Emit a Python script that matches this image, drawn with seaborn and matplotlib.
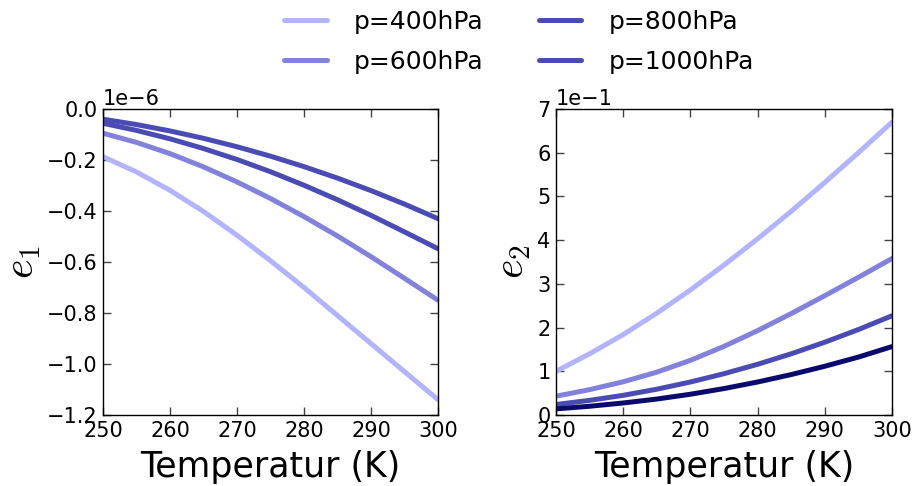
import numpy as np
import pandas as pd
import matplotlib
matplotlib.use("Agg")
import matplotlib.pyplot as plt
import seaborn as sns

# ---------------- data ----------------
temperature = [250, 255, 260, 265, 270, 275, 280, 285, 290, 295, 300]
pressures = ["p=400hPa", "p=600hPa", "p=800hPa", "p=1000hPa"]

# e1 in units of 1e-6
e1_400 = [-0.187, -0.247, -0.319, -0.402, -0.495, -0.595, -0.70, -0.81, -0.92, -1.03, -1.14]
e1_600 = [-0.095, -0.131, -0.175, -0.227, -0.286, -0.351, -0.422, -0.498, -0.579, -0.664, -0.75]
e1_800 = [-0.056, -0.084, -0.117, -0.155, -0.198, -0.246, -0.299, -0.356, -0.417, -0.482, -0.548]
e1_1000 = [-0.04, -0.061, -0.086, -0.115, -0.148, -0.185, -0.226, -0.271, -0.32, -0.373, -0.43]

# e2 in units of 1e-1
e2_400 = [1.0, 1.40, 1.84, 2.33, 2.86, 3.43, 4.03, 4.66, 5.32, 6.0, 6.7]
e2_600 = [0.43, 0.58, 0.76, 0.98, 1.25, 1.57, 1.93, 2.32, 2.73, 3.15, 3.58]
e2_800 = [0.24, 0.335, 0.45, 0.59, 0.755, 0.945, 1.16, 1.40, 1.665, 1.955, 2.27]
e2_1000 = [0.14, 0.20, 0.275, 0.365, 0.475, 0.605, 0.755, 0.925, 1.115, 1.325, 1.565]

e1_series = [e1_400, e1_600, e1_800, e1_1000]
e2_series = [e2_400, e2_600, e2_800, e2_1000]

rows1, rows2 = [], []
for p, s1, s2 in zip(pressures, e1_series, e2_series):
    for t, v1, v2 in zip(temperature, s1, s2):
        rows1.append({"T": t, "e": v1 * 1e-6, "p": p})
        rows2.append({"T": t, "e": v2 * 1e-1, "p": p})
df1 = pd.DataFrame(rows1)
df2 = pd.DataFrame(rows2)

pal_left = {"p=400hPa": "#b3b3ff", "p=600hPa": "#8282dd",
            "p=800hPa": "#4b4bb5", "p=1000hPa": "#4b4bb5"}
pal_right = {"p=400hPa": "#b3b3ff", "p=600hPa": "#8282dd",
             "p=800hPa": "#4b4bb5", "p=1000hPa": "#0a0a6e"}

# ---------------- style ----------------
sns.set_style("ticks")
plt.rcParams.update({
    "font.family": ["DejaVu Sans"],
    "mathtext.fontset": "cm",
    "text.color": "black",
    "axes.labelcolor": "black",
    "xtick.color": "black",
    "ytick.color": "black",
    "xtick.direction": "in",
    "ytick.direction": "in",
    "xtick.top": True,
    "ytick.right": True,
    "axes.edgecolor": "black",
    "axes.linewidth": 1.0,
})

fig = plt.figure(figsize=(9.15, 4.86), dpi=100)
ax1 = fig.add_axes([103 / 915, 1 - 415 / 486, 335 / 915, 306 / 486])
ax2 = fig.add_axes([556 / 915, 1 - 415 / 486, 336 / 915, 306 / 486])

sns.lineplot(data=df1, x="T", y="e", hue="p", hue_order=pressures,
             palette=pal_left, linewidth=3.6, ax=ax1, legend=False)
sns.lineplot(data=df2, x="T", y="e", hue="p", hue_order=pressures,
             palette=pal_right, linewidth=3.6, ax=ax2, legend=False)

ax1.set_xlim(250, 300)
ax1.set_ylim(-1.2e-6, 0)
ax1.set_yticks(np.arange(-1.2e-6, 0.01e-6, 0.2e-6))
ax2.set_xlim(250, 300)
ax2.set_ylim(0, 0.7)
ax2.set_yticks(np.arange(0, 0.71, 0.1))

for ax in (ax1, ax2):
    ax.set_xticks([250, 260, 270, 280, 290, 300])
    ax.ticklabel_format(axis="y", style="sci", scilimits=(0, 0))
    ax.tick_params(axis="both", which="major", labelsize=15, length=6,
                   width=1.0, pad=4)
    ax.tick_params(axis="both", which="major", color="#444444",
                   labelcolor="black")
    ax.yaxis.get_offset_text().set_fontsize(15)
    ax.yaxis.get_offset_text().set_color("black")
    ax.set_xlabel("Temperatur (K)", fontsize=25, color="black", labelpad=7)

ax1.set_ylabel("$e_1$", fontsize=30, color="black", labelpad=3)
ax2.set_ylabel("$e_2$", fontsize=30, color="black", labelpad=3)

handles = ax1.get_lines()[:4]
fig.legend(handles, pressures, ncol=2, loc="center",
           bbox_to_anchor=(519 / 915, 1 - 42 / 486), frameon=False,
           fontsize=18, handlelength=1.7, handletextpad=1.1,
           columnspacing=2.2, labelspacing=0.62)

fig.savefig("out.png", dpi=100)
